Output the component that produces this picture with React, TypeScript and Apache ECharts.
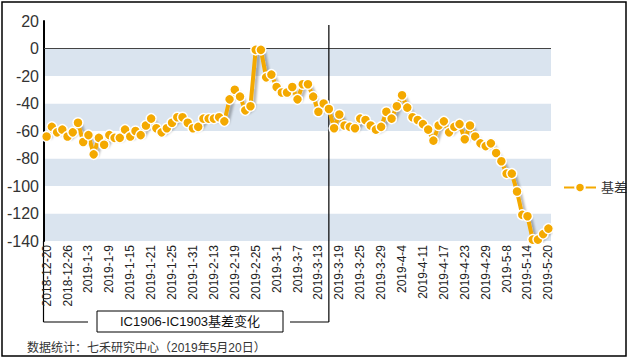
import React, { useEffect, useRef } from 'react';
import * as echarts from 'echarts';

const categories = [
  '2018-12-20', '2018-12-21', '2018-12-24', '2018-12-25', '2018-12-26', '2018-12-27', '2018-12-28',
  '2019-1-2', '2019-1-3', '2019-1-4', '2019-1-7', '2019-1-8', '2019-1-9', '2019-1-10', '2019-1-11',
  '2019-1-14', '2019-1-15', '2019-1-16', '2019-1-17', '2019-1-18', '2019-1-21', '2019-1-22', '2019-1-23',
  '2019-1-24', '2019-1-25', '2019-1-28', '2019-1-29', '2019-1-30', '2019-1-31', '2019-2-1', '2019-2-11',
  '2019-2-12', '2019-2-13', '2019-2-14', '2019-2-15', '2019-2-18', '2019-2-19', '2019-2-20', '2019-2-21',
  '2019-2-22', '2019-2-25', '2019-2-26', '2019-2-27', '2019-2-28', '2019-3-1', '2019-3-4', '2019-3-5',
  '2019-3-6', '2019-3-7', '2019-3-8', '2019-3-11', '2019-3-12', '2019-3-13', '2019-3-14', '2019-3-15',
  '2019-3-18', '2019-3-19', '2019-3-20', '2019-3-21', '2019-3-22', '2019-3-25', '2019-3-26', '2019-3-27',
  '2019-3-28', '2019-3-29', '2019-4-1', '2019-4-2', '2019-4-3', '2019-4-4', '2019-4-8', '2019-4-9',
  '2019-4-10', '2019-4-11', '2019-4-12', '2019-4-15', '2019-4-16', '2019-4-17', '2019-4-18', '2019-4-19',
  '2019-4-22', '2019-4-23', '2019-4-24', '2019-4-25', '2019-4-26', '2019-4-29', '2019-4-30', '2019-5-6',
  '2019-5-7', '2019-5-8', '2019-5-9', '2019-5-10', '2019-5-13', '2019-5-14', '2019-5-15', '2019-5-16',
  '2019-5-17', '2019-5-20',
];

const basis = [
  -64, -57, -61, -59, -64, -61, -54, -68, -63, -77,
  -65, -70, -63, -65, -65, -59, -64, -60, -63, -56,
  -51, -58, -61, -58, -54, -50, -50, -54, -58, -57,
  -51, -51, -51, -50, -53, -37, -30, -35, -45, -42,
  -1, -1, -21, -19, -28, -32, -32, -28, -37, -26,
  -26, -35, -46, -40, -44, -58, -48, -56, -57, -58,
  -51, -52, -56, -59, -57, -46, -51, -42, -34, -43,
  -50, -52, -55, -59, -67, -56, -53, -61, -57, -55,
  -66, -56, -64, -69, -71, -69, -76, -82, -91, -91,
  -104, -121, -122, -139, -139, -135, -131,
];

const seriesName = '基差';
const expiryDate = '2019-3-15';
const yMin = -140;
const yMax = 20;
const yStep = 20;
const boxTitle = 'IC1906-IC1903基差变化';
const sourceNote = '数据统计：七禾研究中心（2019年5月20日）';

const ORANGE = '#f4a900';
const LATIN = 'Arial, "Liberation Sans", sans-serif';
const CJK = 'Arial, "Liberation Sans", "Noto Sans CJK SC", sans-serif';

export default function App() {
  const ref = useRef<HTMLDivElement>(null);

  useEffect(() => {
    const chart = echarts.init(ref.current!, null, { renderer: 'svg' });
    chart.setOption({
      animation: false,
      backgroundColor: '#ffffff',
      grid: { left: 44, right: 78, top: 21, height: 220 },
      legend: {
        data: [seriesName],
        orient: 'vertical',
        left: 558,
        top: 176,
        itemWidth: 32,
        itemHeight: 12,
        textStyle: { fontSize: 13, color: '#333', fontFamily: CJK },
      },
      xAxis: {
        type: 'category',
        data: categories,
        boundaryGap: true,
        axisLine: { show: false },
        axisTick: { show: false },
        splitLine: { show: false },
        axisLabel: {
          interval: 3,
          rotate: 90,
          margin: 4,
          fontSize: 12,
          color: '#222',
          fontFamily: LATIN,
        },
      },
      yAxis: {
        type: 'value',
        min: yMin,
        max: yMax,
        interval: yStep,
        axisLine: { show: true, lineStyle: { color: '#000', width: 2 } },
        axisTick: { show: false },
        splitLine: { show: false },
        splitArea: { show: true, areaStyle: { color: ['#dae4ef', '#ffffff'] } },
        axisLabel: { fontSize: 16, color: '#333', margin: 5, fontFamily: LATIN },
      },
      series: [
        {
          name: seriesName,
          type: 'line',
          data: basis,
          symbol: 'circle',
          symbolSize: 10,
          showAllSymbol: true,
          z: 3,
          lineStyle: {
            color: ORANGE,
            width: 4,
            shadowColor: 'rgba(0,0,0,0.28)',
            shadowBlur: 2,
            shadowOffsetX: 3,
            shadowOffsetY: 2,
          },
          itemStyle: { color: ORANGE, borderColor: '#ffffff', borderWidth: 1.5 },
          markLine: {
            silent: true,
            symbol: 'none',
            label: { show: false },
            z: 1,
            lineStyle: { color: '#444', width: 1.2, type: 'solid' },
            data: [{ yAxis: 0 }],
          },
        },
      ],
    });

    const xe = chart.convertToPixel({ xAxisIndex: 0 }, expiryDate) as number;
    const yb = chart.convertToPixel({ yAxisIndex: 0 }, yMin) as number;
    const bracketY = 322;
    chart.setOption({
      graphic: [
        {
          type: 'rect',
          z: 100,
          shape: { x: 2, y: 2, width: 624, height: 354 },
          style: { fill: 'none', stroke: '#000', lineWidth: 1.5 },
          silent: true,
        },
        {
          type: 'line',
          z: 1,
          shape: { x1: xe, y1: 25, x2: xe, y2: bracketY },
          style: { stroke: '#000', lineWidth: 1.2 },
          silent: true,
        },
        {
          type: 'line',
          shape: { x1: 43.5, y1: yb, x2: 43.5, y2: bracketY },
          style: { stroke: '#000', lineWidth: 1.2 },
          silent: true,
        },
        {
          type: 'line',
          shape: { x1: 43.5, y1: bracketY, x2: 88, y2: bracketY },
          style: { stroke: '#000', lineWidth: 1.2 },
          silent: true,
        },
        {
          type: 'line',
          shape: { x1: 290, y1: bracketY, x2: xe, y2: bracketY },
          style: { stroke: '#000', lineWidth: 1.2 },
          silent: true,
        },
        {
          type: 'rect',
          shape: { x: 97, y: 311, width: 186, height: 21 },
          style: { fill: '#fff', stroke: '#000', lineWidth: 1 },
          silent: true,
        },
        {
          type: 'text',
          x: 190,
          y: 321.5,
          style: {
            text: boxTitle,
            fontSize: 13,
            fill: '#111',
            fontFamily: CJK,
            align: 'center',
            verticalAlign: 'middle',
          },
          silent: true,
        },
        {
          type: 'text',
          x: 27,
          y: 348,
          style: {
            text: sourceNote,
            fontSize: 12,
            fill: '#333',
            fontFamily: CJK,
            align: 'left',
            verticalAlign: 'middle',
          },
          silent: true,
        },
      ],
    });

    return () => chart.dispose();
  }, []);

  return (
    <div
      ref={ref}
      style={{ position: 'fixed', left: 0, top: 0, width: 629, height: 360, background: '#fff' }}
    />
  );
}
